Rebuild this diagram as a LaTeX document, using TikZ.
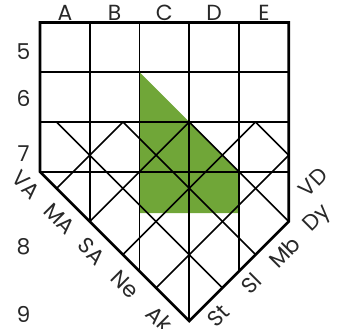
\documentclass[tikz,border=0pt]{standalone}
\usepackage{fontspec}
\setmainfont{Poppins}
\definecolor{greenfill}{RGB}{112,166,56}
\definecolor{labtext}{RGB}{40,40,40}
\begin{document}
\begin{tikzpicture}[x=1cm,y=1cm,
  gridline/.style={line width=0.9pt, black},
  outline/.style={line width=1.6pt, black, line join=miter},
  lab/.style={font=\fontsize{12.5}{14}\selectfont, inner sep=0pt, text=labtext},
  leftlab/.style={lab, rotate=-45},
  rightlab/.style={lab, rotate=45}]
\useasboundingbox (-0.804,0.452) rectangle (5.99,-6.16);
% green region
\fill[greenfill] (2,-1) -- (4,-3) -- (4,-3.83) -- (2,-3.83) -- cycle;
% vertical grid lines
\draw[gridline] (1,0) -- (1,-4);
\draw[gridline] (2,0) -- (2,-5);
\draw[gridline] (3,0) -- (3,-6);
\draw[gridline] (4,0) -- (4,-5);
% horizontal grid lines
\draw[gridline] (0,-1) -- (5,-1);
\draw[gridline] (0,-2) -- (5,-2);
\draw[gridline] (0,-3) -- (5,-3);
% diagonals going down-right
\draw[gridline] (1/3,-2) -- (11/3,-16/3);
\draw[gridline] (5/3,-2) -- (13/3,-14/3);
\draw[gridline] (3,-2) -- (5,-4);
\draw[gridline] (13/3,-2) -- (5,-8/3);
% diagonals going down-left
\draw[gridline] (5/3,-2) -- (1/3,-10/3);
\draw[gridline] (3,-2) -- (1,-4);
\draw[gridline] (13/3,-2) -- (5/3,-14/3);
\draw[gridline] (5,-8/3) -- (7/3,-16/3);
% outline
\draw[outline] (0,0) -- (5,0) -- (5,-4) -- (3,-6) -- (0,-3) -- cycle;
% column labels
\node[lab] (cA) at (0.5,0.19) {A};
\node[lab] (cB) at (1.5,0.19) {B};
\node[lab] (cC) at (2.5,0.19) {C};
\node[lab] (cD) at (3.5,0.19) {D};
\node[lab] (cE) at (4.5,0.19) {E};
% row labels
\node[lab] (r5) at (-0.33,-0.59) {5};
\node[lab] (r6) at (-0.33,-1.52) {6};
\node[lab] (r7) at (-0.33,-2.64) {7};
\node[lab] (r8) at (-0.33,-4.51) {8};
\node[lab] (r9) at (-0.33,-5.86) {9};
% left diagonal labels
\node[leftlab] (lVA) at (-0.28,-3.26) {VA};
\node[leftlab] (lMA) at (0.39,-3.95) {MA};
\node[leftlab] (lSA) at (1.04,-4.6) {SA};
\node[leftlab] (lNe) at (1.71,-5.26) {Ne};
\node[leftlab] (lAk) at (2.41,-5.95) {Ak};
% right diagonal labels
\node[rightlab] (rVD) at (5.49,-3.21) {VD};
\node[rightlab] (rDy) at (5.58,-3.96) {Dy};
\node[rightlab] (rMb) at (4.91,-4.61) {Mb};
\node[rightlab] (rSl) at (4.24,-5.25) {Sl};
\node[rightlab] (rSt) at (3.58,-5.9) {St};
\end{tikzpicture}
\end{document}
